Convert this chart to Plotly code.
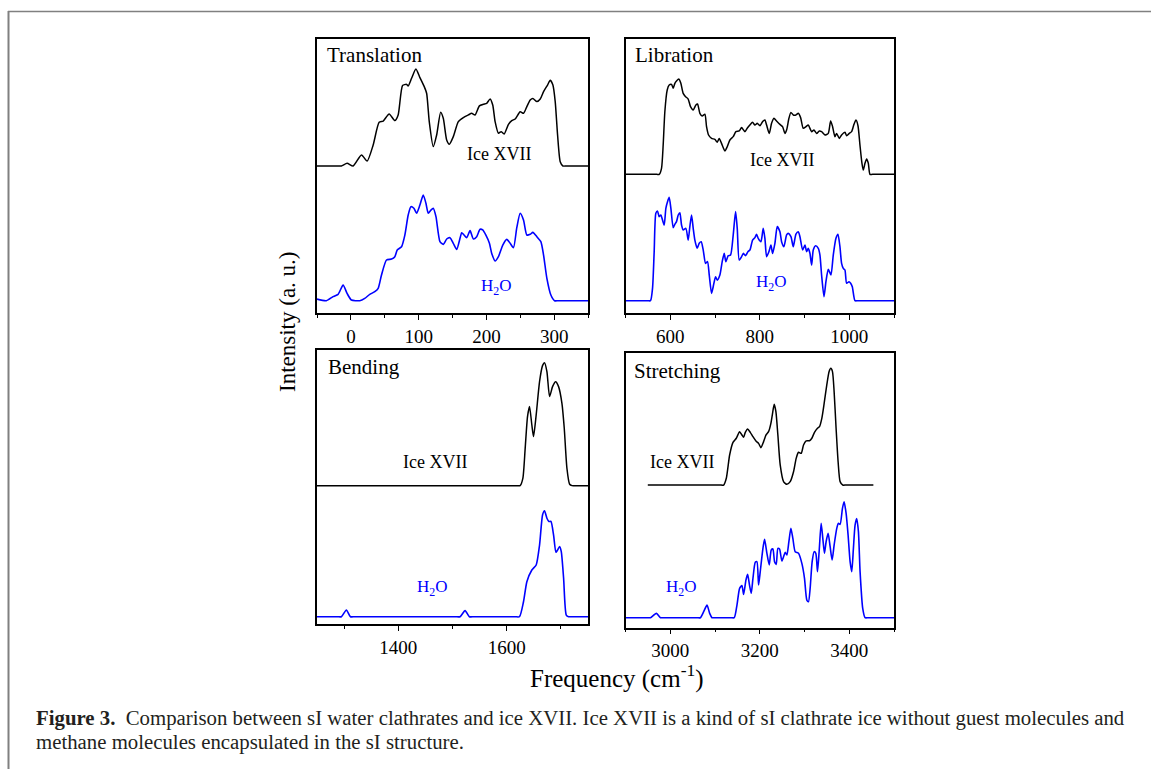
import plotly.graph_objects as go

# ---------------- data ----------------
# Translation panel
trans_ice_x = [-50,-20,-14,-5.6,3.3,15.6,24,32.9,41.7,47.7,56.5,64.9,69.8,76.3,82.2,84.6,89.6,96,101.9,108.3,111.8,
               115.7,121.6,126.6,132.5,136.4,141.4,145.3,151.2,158.6,166,173.4,178.3,183.3,189.7,195.6,200.5,205.5,209.4,212.9,217.8,
               221.8,226.2,232.6,237.5,242.5,249.9,254.8,259.7,264.7,268.6,274.5,279.5,284.4,290.3,294.2,298.2,301.6,305.1,309,313,318,350]
trans_ice_y = [0,0,0,0.02,0,0.082,0.037,0.156,0.324,0.334,0.386,0.337,0.379,0.597,0.606,0.594,0.651,0.72,0.656,0.589,0.54,
               0.329,0.144,0.23,0.399,0.354,0.193,0.161,0.218,0.329,0.359,0.379,0.391,0.379,0.446,0.458,0.465,0.498,0.453,0.329,0.243,
               0.255,0.238,0.309,0.337,0.349,0.403,0.391,0.441,0.49,0.502,0.478,0.498,0.552,0.601,0.636,0.601,0.478,0.23,0.032,0,0,0]
trans_h2o_x = [-50,-36.2,-26.3,-18.9,-11.5,-5.6,0.8,13.1,20.5,27.9,35.3,40.3,45.2,52.6,60,64.9,68.4,74.8,79.7,84.6,
               88.6,93,97,101.9,106.8,110.8,114.2,118.2,121.6,125.6,131.5,136.4,141.4,146.3,151.2,156.2,161.1,163.6,167,171,
               175.9,180.8,185.7,190.7,194.6,199.1,204.5,207.9,212.9,217.8,224.2,230.1,235.1,240,244.9,249.9,254.8,259.7,264.7,268.6,
               274.5,280.4,284.4,289.3,295.2,300.7,306,350]
trans_h2o_y = [0.012,0,0.03,0.047,0.116,0.054,0.005,0,0.017,0.047,0.067,0.092,0.191,0.302,0.309,0.327,0.376,0.401,0.488,0.636,
               0.698,0.686,0.649,0.71,0.785,0.723,0.649,0.673,0.686,0.624,0.438,0.418,0.458,0.468,0.426,0.381,0.463,0.505,0.488,0.468,
               0.52,0.458,0.475,0.53,0.525,0.488,0.426,0.351,0.295,0.327,0.413,0.455,0.426,0.394,0.542,0.649,0.599,0.488,0.493,0.507,
               0.475,0.438,0.339,0.166,0.042,0,0,0]

# Libration panel
lib_ice_x = [500,570,575.3,580.5,584.2,587.9,593.2,597.6,602.9,606.6,610.3,614,619.2,623.7,628.9,634.2,640.1,645.3,651.3,657.3,661,
             666.2,671.4,677.4,681.1,685.6,692.3,699.7,705,709.4,714.6,722.1,727.3,733.3,740.7,746.7,754.1,759.4,766.8,772,778,
             784,789.2,794.4,800.4,806.3,811.5,815.3,821.2,826.4,831.7,837.6,845.1,851,856.3,860,865.2,869.7,874.9,880.9,886.1,
             891.3,897.2,903.2,908.4,915.9,921.1,927.1,933,938.2,945.7,953.1,958.4,962.8,968,971.8,977.7,982.9,990.4,994.1,1000.1,
             1005.3,1010.5,1015,1019.5,1023.9,1028.4,1031.4,1035.1,1038.8,1042.6,1046.3,1052,1100]
lib_ice_y = [0,0,0,0.045,0.218,0.465,0.626,0.663,0.668,0.639,0.676,0.693,0.708,0.676,0.601,0.577,0.559,0.502,0.478,0.515,0.522,
             0.453,0.433,0.446,0.354,0.292,0.267,0.26,0.238,0.267,0.23,0.173,0.205,0.255,0.28,0.317,0.322,0.347,0.317,0.342,0.366,
             0.386,0.366,0.379,0.361,0.391,0.403,0.366,0.304,0.379,0.416,0.396,0.371,0.354,0.304,0.329,0.416,0.46,0.441,0.441,0.453,
             0.421,0.342,0.354,0.366,0.317,0.329,0.304,0.322,0.317,0.292,0.304,0.396,0.354,0.28,0.304,0.267,0.292,0.312,0.287,0.304,
             0.317,0.371,0.403,0.361,0.218,0.082,0.032,0.082,0.114,0.082,0,0,0]
lib_h2o_x = [500,550,555.9,560.4,564.1,567.8,571.5,575.3,579,582.7,586.5,590.2,593.9,597.6,601.4,606.6,610.3,614,617.8,621.5,625.2,
             628.9,634.9,640.1,643.8,647.6,651.3,655,660.2,664.7,669.2,673.7,678.9,683.3,687.1,692.3,696,701.2,705,710.9,716.1,
             720.6,724.3,729.6,734.8,740.7,746,749.7,754.1,759.4,763.1,768.3,773.5,778,784,789.2,792.9,796.6,802.6,807.8,811.5,
             815.3,820.5,825,828.7,833.9,839.1,845.1,848.8,854,860,863.7,869.7,874.9,880.9,886.1,889.8,895.8,901,904.7,908.4,
             912.2,915.9,919.6,924.8,930.8,934.5,938.2,943.5,947.9,953.1,959.1,964.3,970.3,974.8,979.2,982.9,986.7,990.4,994.1,999.4,
             1003.1,1006.8,1012.8,1019,1100]
lib_h2o_y = [0,0,0,0.092,0.364,0.649,0.666,0.624,0.636,0.599,0.562,0.686,0.735,0.767,0.686,0.542,0.567,0.587,0.636,0.653,0.562,
             0.525,0.537,0.45,0.55,0.636,0.537,0.45,0.389,0.426,0.438,0.376,0.277,0.29,0.191,0.054,0.104,0.178,0.153,0.191,0.29,
             0.351,0.29,0.334,0.339,0.488,0.661,0.537,0.302,0.327,0.351,0.334,0.364,0.376,0.45,0.468,0.493,0.463,0.438,0.537,0.463,
             0.327,0.364,0.413,0.351,0.426,0.55,0.512,0.438,0.401,0.488,0.5,0.475,0.401,0.495,0.512,0.475,0.376,0.413,0.364,0.389,
             0.351,0.265,0.376,0.408,0.389,0.339,0.191,0.03,0.141,0.233,0.191,0.339,0.463,0.493,0.401,0.277,0.24,0.228,0.129,0.141,
             0.129,0.104,0,0,0]

# Bending panel
bend_ice_x = [1250,1615,1624.8,1629.8,1634.1,1638.4,1642.1,1646.4,1649.5,1654.4,1660.6,1666.1,1669.8,1674.2,1679.1,1684.6,1690.2,
              1695.7,1701.9,1706.2,1711.1,1716.1,1720.4,1728,1750]
bend_ice_y = [0,0,0,0.054,0.277,0.512,0.587,0.45,0.364,0.525,0.772,0.891,0.913,0.847,0.661,0.735,0.772,
              0.735,0.611,0.426,0.129,0.01,0,0,0]
bend_h2o_x = [1250,1288,1295,1304.2,1311.7,1320,1505,1513.9,1523.2,1531.1,1540,1615,1623.6,1631,1637.2,1646.4,1654.4,1660.6,1666.1,1669.8,1674.2,
              1677.9,1681.6,1686.5,1690.8,1693.9,1697.6,1700.7,1705,1709.9,1714.2,1722,1750]
bend_h2o_y = [0,0,0,0.05,0,0,0,0,0.045,0,0,0,0,0.111,0.26,0.347,0.384,0.532,0.755,0.787,0.731,
              0.707,0.707,0.606,0.478,0.495,0.52,0.483,0.285,0.012,0,0,0]

# Stretching panel
str_ice_x = [2949.8,3110,3119.3,3125.3,3132.7,3140.2,3147.6,3155,3160.2,3163.9,3167.7,3172.9,3178.8,3184.8,3191.5,3197.4,3202.6,
             3208.6,3213.8,3219.7,3224.9,3228.6,3232.3,3236.1,3240.5,3245.7,3253.2,3260.6,3268,3275.5,3281.4,3286.6,3292.6,
             3297.8,3303.7,3311.2,3316.4,3322.3,3329,3333.5,3338.7,3343.9,3349.8,3355,3358.8,3362.5,3366.2,3370.6,3375.1,
             3379.6,3385.5,3393,3453.9]
str_ice_y = [0,0,0,0.05,0.223,0.317,0.347,0.396,0.371,0.354,0.391,0.416,0.391,0.359,0.327,0.309,0.277,
             0.322,0.371,0.396,0.458,0.532,0.599,0.545,0.371,0.149,0.025,0.005,0.025,0.099,0.198,0.243,0.235,
             0.297,0.327,0.329,0.347,0.391,0.421,0.433,0.495,0.606,0.743,0.842,0.866,0.842,0.693,0.421,0.173,
             0.025,0,0,0]
str_h2o_x = [2900,2950,2955.8,2969.1,2978.1,2986,3060,3067.3,3074.7,3082.2,3088.1,3093.3,3100,3136,3143.1,3149.1,3155,3160.2,3163.9,3169.1,3172.9,
             3177.3,3181,3184.8,3190,3193.7,3197.4,3201.1,3207.1,3210.8,3216,3221.2,3225.7,3229.4,3233.1,3236.8,3240.5,
             3244.2,3249.4,3253.2,3256.9,3260.6,3265.1,3269.5,3274,3279.2,3286.6,3294.1,3300,3305.2,3308.9,3312.6,3317.1,
             3321.6,3325.3,3329,3332.7,3337.2,3340.9,3344.6,3348.3,3352.8,3357.3,3361.7,3366.2,3372.1,3375.8,3379.6,3384.8,
             3388.5,3393,3397.4,3401.9,3405.6,3409.3,3413,3416.7,3420.5,3424.2,3430.1,3435.3,3442,3500]
str_h2o_y = [0,0,0,0.032,0,0,0,0,0.045,0.094,0.032,0,0,0,0,0.094,0.218,0.238,0.173,0.279,0.322,
             0.238,0.181,0.292,0.411,0.416,0.243,0.342,0.515,0.582,0.478,0.391,0.503,0.51,0.416,0.396,0.515,
             0.51,0.421,0.453,0.485,0.465,0.564,0.663,0.589,0.49,0.478,0.403,0.292,0.131,0.119,0.218,0.416,
             0.49,0.478,0.342,0.49,0.701,0.589,0.478,0.564,0.626,0.527,0.428,0.539,0.663,0.701,0.693,0.812,
             0.861,0.775,0.614,0.416,0.342,0.515,0.688,0.737,0.639,0.342,0.069,0,0,0]

panel_names = ["Translation", "Libration", "Bending", "Stretching"]
ice_offsets = [1.0, 0.938, 0.973, 0.985]
x_ranges = [[-50, 350], [500, 1100], [1250, 1750], [2900, 3500]]
x_dticks = [100, 200, 200, 200]
x_minor = [50, 100, 100, 100]
ice_label = "Ice XVII"
h2o_label = "H<sub>2</sub>O"
x_title = "Frequency (cm<sup>-1</sup>)"
y_title = "Intensity (a. u.)"
caption_1 = "<b>Figure 3.</b>  Comparison between sI water clathrates and ice XVII. Ice XVII is a kind of sI clathrate ice without guest molecules and"
caption_2 = "methane molecules encapsulated in the sI structure."

# ---------------- layout helpers ----------------
W, H = 1151, 769
def px(x): return x / W
def py(y): return 1 - y / H

# panel boxes in pixels: (left, right, top, bottom, blue baseline)
boxes = [(317, 588, 39, 313, 300.7),
         (625.5, 894, 39, 313, 300.7),
         (317, 588, 350, 624.3, 616.7),
         (625.5, 894, 352.5, 627.5, 617.7)]
UNIT = 134.7  # pixels per intensity unit

series = [
    (trans_ice_x, trans_ice_y, trans_h2o_x, trans_h2o_y),
    (lib_ice_x, lib_ice_y, lib_h2o_x, lib_h2o_y),
    (bend_ice_x, bend_ice_y, bend_h2o_x, bend_h2o_y),
    (str_ice_x, str_ice_y, str_h2o_x, str_h2o_y),
]

SERIF = "Liberation Serif, Times New Roman, serif"
fig = go.Figure()
layout = dict(width=W, height=H, margin=dict(l=0, r=0, t=0, b=0),
              paper_bgcolor="white", plot_bgcolor="white", showlegend=False)

for i, (ix, iy, hx, hy) in enumerate(series):
    n = "" if i == 0 else str(i + 1)
    off = ice_offsets[i]
    fig.add_trace(go.Scatter(x=hx, y=hy, mode="lines", line=dict(color="#0000ff", width=1.6, shape="spline", smoothing=0.6),
                             xaxis="x" + n, yaxis="y" + n, hoverinfo="skip"))
    fig.add_trace(go.Scatter(x=ix, y=[v + off for v in iy], mode="lines",
                             line=dict(color="#000000", width=1.5, shape="spline", smoothing=0.6),
                             xaxis="x" + n, yaxis="y" + n, hoverinfo="skip"))
    l, r, t, b, base = boxes[i]
    ylo = -(b - base) / UNIT
    yhi = (base - t) / UNIT
    layout["xaxis" + n] = dict(domain=[px(l), px(r)], anchor="y" + n, range=x_ranges[i],
                               showline=True, linecolor="black", linewidth=1.5, mirror=True,
                               ticks="outside", ticklen=5, tickwidth=1.2, tickcolor="black",
                               dtick=x_dticks[i], tick0=0, showgrid=False, zeroline=False,
                               minor=dict(dtick=x_minor[i], tick0=0, ticks="outside", ticklen=3, tickwidth=1.2, tickcolor="black", showgrid=False),
                               tickfont=dict(family=SERIF, size=19, color="black"))
    layout["yaxis" + n] = dict(domain=[py(b), py(t)], anchor="x" + n, range=[ylo, yhi],
                               showline=True, linecolor="black", linewidth=1.5, mirror=True,
                               ticks="", showticklabels=False, showgrid=False, zeroline=False)

fig.update_layout(**layout)

annotations = []
# panel titles
title_pos = [(325, 55), (633, 55), (326, 367), (632, 371)]
for name, (x, y) in zip(panel_names, title_pos):
    annotations.append(dict(text=name, x=px(x), y=py(y), xref="paper", yref="paper", xanchor="left", yanchor="middle",
                            showarrow=False, font=dict(family=SERIF, size=21, color="black")))
# series labels
ice_pos = [(499, 154), (782, 160), (435, 462), (682, 462)]
h2o_pos = [(496, 287), (771, 283), (432, 588), (681, 588)]
for (x, y) in ice_pos:
    annotations.append(dict(text=ice_label, x=px(x), y=py(y), xref="paper", yref="paper", xanchor="center", yanchor="middle",
                            showarrow=False, font=dict(family=SERIF, size=18, color="black")))
for (x, y) in h2o_pos:
    annotations.append(dict(text=h2o_label, x=px(x), y=py(y), xref="paper", yref="paper", xanchor="center", yanchor="middle",
                            showarrow=False, font=dict(family=SERIF, size=17, color="#0000ff")))
# axis titles
annotations.append(dict(text=x_title, x=px(617), y=py(676), xref="paper", yref="paper",
                        xanchor="center", yanchor="middle", showarrow=False, font=dict(family=SERIF, size=25, color="black")))
annotations.append(dict(text=y_title, x=px(287), y=py(322), xref="paper", yref="paper", textangle=-90,
                        xanchor="center", yanchor="middle", showarrow=False, font=dict(family=SERIF, size=23, color="black")))
# caption
annotations.append(dict(text=caption_1, x=px(34), y=py(718), xref="paper", yref="paper", xanchor="left", yanchor="middle",
                        showarrow=False, font=dict(family=SERIF, size=20.8, color="#231f20")))
annotations.append(dict(text=caption_2, x=px(34), y=py(742), xref="paper", yref="paper", xanchor="left", yanchor="middle",
                        showarrow=False, font=dict(family=SERIF, size=20.8, color="#231f20")))

shapes = [
    dict(type="line", xref="paper", yref="paper", x0=px(8), x1=1, y0=py(11.5), y1=py(11.5), line=dict(color="#808080", width=1.5)),
    dict(type="line", xref="paper", yref="paper", x0=px(8.5), x1=px(8.5), y0=py(11), y1=0, line=dict(color="#808080", width=2)),
]
fig.update_layout(annotations=annotations, shapes=shapes)
fig.write_html("out.html", config={"displayModeBar": False},
               post_script="document.body.style.margin='0';document.body.style.overflow='hidden';")
